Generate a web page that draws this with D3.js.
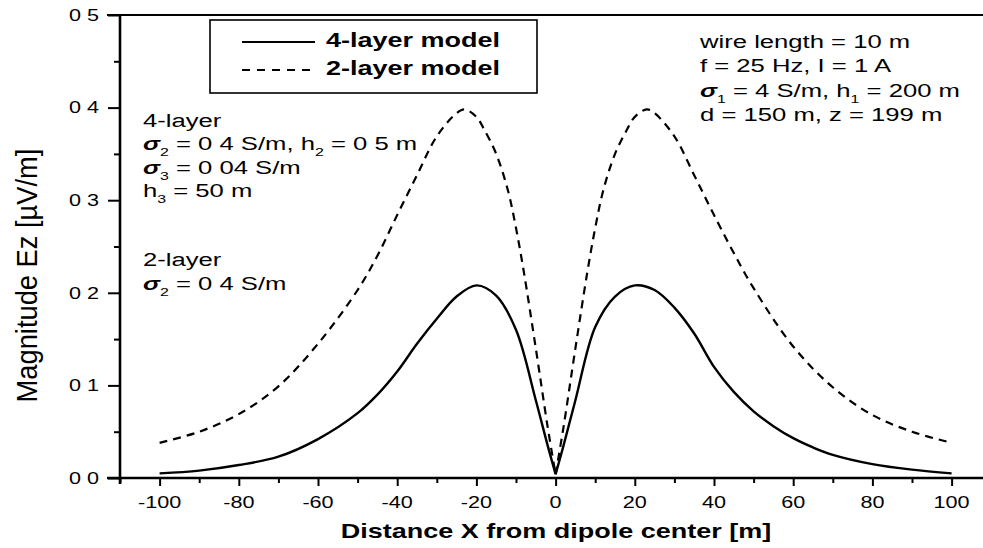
<!DOCTYPE html>
<html><head><meta charset="utf-8">
<script src="https://cdn.jsdelivr.net/npm/d3@7"></script>
<style>
body{margin:0;background:#fff}
svg{display:block}
text{font-family:"Liberation Sans",Arial,Helvetica,sans-serif;fill:#000}
</style>
</head><body>
<svg id="c" width="983" height="548"></svg>
<script>
// ---- data ----
const xFour = [-100,-90,-80,-70,-60,-50,-45,-40,-35,-30,-25,-20,-15,-10,-5,-2,0,2,5,10,15,20,25,30,35,40,45,50,55,60,65,70,80,90,100];
const fourLayer = [0.005,0.008,0.014,0.023,0.042,0.070,0.090,0.115,0.145,0.172,0.196,0.208,0.197,0.160,0.084,0.035,0.004,0.035,0.084,0.163,0.196,0.208,0.203,0.184,0.156,0.120,0.093,0.072,0.056,0.043,0.033,0.025,0.015,0.009,0.005];
const xTwo = [-100,-90,-80,-70,-60,-50,-45,-40,-35,-30,-25,-23,-20,-18,-15,-12,-10,-8,-5,-2,0,2,5,8,10,12,15,18,20,23,25,30,35,40,45,50,60,70,80,90,100];
const twoLayer = [0.038,0.050,0.069,0.099,0.145,0.203,0.240,0.284,0.327,0.369,0.394,0.398,0.390,0.376,0.350,0.310,0.270,0.222,0.140,0.055,0.004,0.055,0.140,0.222,0.270,0.310,0.350,0.376,0.390,0.398,0.394,0.369,0.327,0.284,0.243,0.205,0.142,0.098,0.068,0.050,0.038];
const yTickValues = [0,0.1,0.2,0.3,0.4,0.5];
const yTickLabels = ["0 0","0 1","0 2","0 3","0 4","0 5"];
const yMinorValues = [0.05,0.15,0.25,0.35,0.45];
const xTickValues = [-100,-80,-60,-40,-20,0,20,40,60,80,100];
const xMinorValues = [-110,-90,-70,-50,-30,-10,10,30,50,70,90,110];
const legendLabels = ["4-layer model","2-layer model"];
const xTitle = "Distance X from dipole center [m]";
const yTitle = "Magnitude Ez [\u00b5V/m]";
const infoLines = [
  [{t:"wire length = 10 m"}],
  [{t:"f = 25 Hz, I = 1 A"}],
  [{t:"\u03c3",i:1},{t:"1",s:1},{t:" = 4 S/m, h"},{t:"1",s:1},{t:" = 200 m"}],
  [{t:"d = 150 m, z = 199 m"}]
];
const fourLines = [
  [{t:"4-layer"}],
  [{t:"\u03c3",i:1},{t:"2",s:1},{t:" = 0 4 S/m, h"},{t:"2",s:1},{t:" = 0 5 m"}],
  [{t:"\u03c3",i:1},{t:"3",s:1},{t:" = 0 04 S/m"}],
  [{t:"h"},{t:"3",s:1},{t:" = 50 m"}]
];
const twoLines = [
  [{t:"2-layer"}],
  [{t:"\u03c3",i:1},{t:"2",s:1},{t:" = 0 4 S/m"}]
];

// ---- setup ----
const S = 1.35; // horizontal stretch of the scanned figure
const svg = d3.select("#c");
const x = d3.scaleLinear().domain([-110,110]).range([120,991.2]);
const y = d3.scaleLinear().domain([0,0.5]).range([478,15]);

function sText(px, py, segs, opts={}){
  const g = svg.append("g").attr("transform",`translate(${px},${py}) scale(${opts.sx||S},1)`);
  const t = g.append("text")
    .attr("text-anchor",opts.anchor||"start")
    .attr("font-size",opts.size||19)
    .attr("font-weight",opts.weight||"normal");
  if(opts.baseline) t.attr("dominant-baseline",opts.baseline);
  let shifted=false;
  segs.forEach(s=>{
    const sp = t.append("tspan").text(s.t);
    if(s.i) sp.attr("font-style","italic").attr("font-weight","bold");
    if(s.s){ sp.attr("font-size",(opts.size||19)*0.62).attr("dy",6); shifted=true; }
    else if(shifted){ sp.attr("dy",-6); shifted=false; }
  });
  return t;
}

// ---- axes ----
const yMaj = svg.append("g").attr("transform","translate(120,0)")
  .call(d3.axisLeft(y).tickValues(yTickValues).tickSize(12).tickFormat(""));
const yMin = svg.append("g").attr("transform","translate(120,0)")
  .call(d3.axisLeft(y).tickValues(yMinorValues).tickSize(6).tickFormat(""));
const xMaj = svg.append("g").attr("transform","translate(0,478)")
  .call(d3.axisBottom(x).tickValues(xTickValues).tickSize(8).tickFormat(""));
const xMin = svg.append("g").attr("transform","translate(0,478)")
  .call(d3.axisBottom(x).tickValues(xMinorValues).tickSize(5).tickFormat(""));
[yMaj,yMin,xMaj,xMin].forEach(a=>{
  a.select(".domain").remove();
  a.selectAll("line").attr("stroke","#000").attr("stroke-width",2);
});

// frame lines
svg.append("line").attr("x1",120).attr("x2",120).attr("y1",14).attr("y2",484).attr("stroke","#000").attr("stroke-width",2.6);
svg.append("line").attr("x1",107).attr("x2",983).attr("y1",478).attr("y2",478).attr("stroke","#000").attr("stroke-width",2.6);
svg.append("line").attr("x1",107).attr("x2",983).attr("y1",15).attr("y2",15).attr("stroke","#000").attr("stroke-width",2.2);

// tick labels
yTickValues.forEach((v,i)=>sText(99, y(v), [{t:yTickLabels[i]}], {anchor:"end", size:16, baseline:"central"}));
xTickValues.forEach(v=>sText(x(v), 508, [{t:String(v)}], {anchor:"middle", size:16}));

// axis titles
sText(556, 538, [{t:xTitle}], {anchor:"middle", size:20, weight:"bold"});
svg.append("text").attr("transform","translate(36.5,275.5) rotate(-90) scale(1.05,1.15)")
  .attr("text-anchor","middle").attr("font-size",26).text(yTitle);

// ---- curves (each drawn as two branches meeting in the sharp minimum at x = 0) ----
const line = d3.line().x(d=>x(d[0])).y(d=>y(d[1])).curve(d3.curveCatmullRom.alpha(0.5));
function branches(xs, vs){
  const pts = xs.map((v,i)=>[v,vs[i]]);
  return [pts.filter(p=>p[0]<=0), pts.filter(p=>p[0]>=0)];
}
branches(xTwo, twoLayer).forEach(b=>{
  svg.append("path").datum(b).attr("d",line).attr("fill","none")
    .attr("stroke","#000").attr("stroke-width",2.2).attr("stroke-dasharray","8,6");
});
branches(xFour, fourLayer).forEach(b=>{
  svg.append("path").datum(b).attr("d",line).attr("fill","none")
    .attr("stroke","#000").attr("stroke-width",2.4);
});

// ---- legend ----
svg.append("rect").attr("x",210).attr("y",20).attr("width",327).attr("height",73)
  .attr("fill","#fff").attr("stroke","#000").attr("stroke-width",1.6);
svg.append("line").attr("x1",242).attr("x2",315).attr("y1",42).attr("y2",42).attr("stroke","#000").attr("stroke-width",2.2);
svg.append("line").attr("x1",242).attr("x2",315).attr("y1",70).attr("y2",70).attr("stroke","#000").attr("stroke-width",2.2).attr("stroke-dasharray","8,7");
sText(326, 47, [{t:legendLabels[0]}], {size:20, weight:"bold"});
sText(326, 75, [{t:legendLabels[1]}], {size:20, weight:"bold"});

// ---- annotations ----
infoLines.forEach((segs,i)=>sText(700, 47.5 + 24.6*i, segs, {size:19}));
fourLines.forEach((segs,i)=>sText(143, 126.5 + 23.6*i, segs, {size:19}));
twoLines.forEach((segs,i)=>sText(143, 265.5 + 24.3*i, segs, {size:19}));
</script>
</body></html>
